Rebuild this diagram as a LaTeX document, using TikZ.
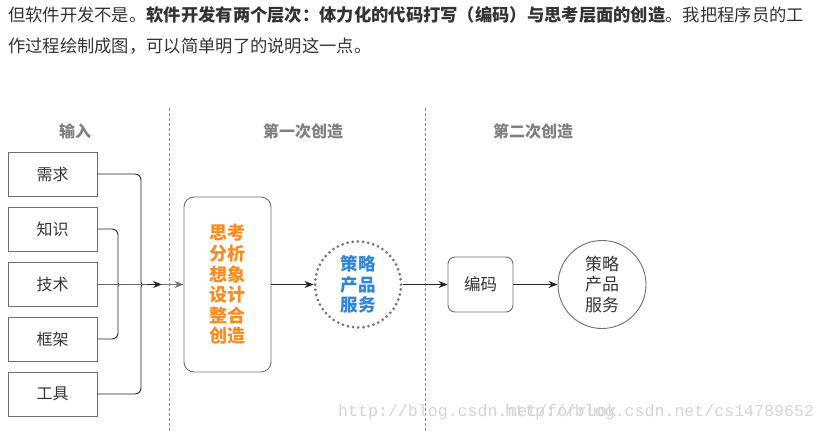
\documentclass[tikz,border=0pt]{standalone}
\usepackage{fontspec}
\setmainfont{Noto Sans CJK SC}
\newfontfamily\wmfont{Liberation Mono}
\usetikzlibrary{arrows.meta,calc}
\definecolor{txt}{HTML}{333333}
\definecolor{hdr}{HTML}{808080}
\definecolor{bord}{HTML}{6E6E6E}
\definecolor{orng}{HTML}{FF8A1E}
\definecolor{blu}{HTML}{2F86D8}
\definecolor{dash}{HTML}{8C8C8C}
\definecolor{wm}{HTML}{D4D4D4}
\begin{document}
\begin{tikzpicture}[x=1pt,y=-1pt,
  inbox/.style={draw=bord,line width=0.8pt,minimum width=89pt,minimum height=44pt,inner sep=0pt,font=\fontsize{16}{18}\selectfont,text=txt},
  header/.style={font=\fontsize{16}{18}\selectfont\bfseries,text=hdr},
  sep/.style={draw=dash,line width=0.8pt,dash pattern=on 3pt off 2pt},
  conn/.style={draw=black!85,line width=0.9pt},
  arr/.style={-{Stealth[length=9pt,width=7pt]}},
  topline/.style={anchor=base west,inner sep=0pt,font=\fontsize{17.3}{20}\selectfont,text=txt}]
\useasboundingbox (0,0) rectangle (825,432);
% intro text
\node[topline] (l1) at (8,21) {但软件开发不是。\textbf{软件开发有两个层次：体力化的代码打写（编码）与思考层面的创造}。我把程序员的工};
\node[topline] (l2) at (8,52) {作过程绘制成图，可以简单明了的说明这一点。};
% separators
\coordinate (s1t) at (169,108); \coordinate (s1b) at (169,432);
\coordinate (s2t) at (425,108); \coordinate (s2b) at (425,432);
\draw[sep] (s1t) -- (s1b);
\draw[sep] (s2t) -- (s2b);
% headers
\node[header] (h0) at (75,131) {输入};
\node[header] (h1) at (303,131) {第一次创造};
\node[header] (h2) at (533,131) {第二次创造};
% inputs
\node[inbox] (r1) at (52.5,174) {需求};
\node[inbox] (r2) at (52.5,229) {知识};
\node[inbox] (r3) at (52.5,284.5) {技术};
\node[inbox] (r4) at (52.5,339) {框架};
\node[inbox] (r5) at (52.5,394) {工具};
\coordinate (m) at (162,284.5);
% braces
\draw[conn,rounded corners=6pt] (r1.east) -| (141,276) .. controls (141,284.5) .. (147,284.5);
\draw[conn,rounded corners=6pt] (r5.east) -| (141,293) .. controls (141,284.5) .. (147,284.5);
\draw[conn,rounded corners=6pt] (r2.east) -| (118,277) .. controls (118,284.5) .. (124,284.5);
\draw[conn,rounded corners=6pt] (r4.east) -| (118,292) .. controls (118,284.5) .. (124,284.5);
\draw[draw=black!60,line width=0.9pt] (r3.east) -- (147,284.5);
\draw[conn,arr] (147,284.5) -- (m);
% first creation
\node[draw=bord,line width=0.9pt,rounded corners=10pt,minimum width=87pt,minimum height=175pt,inner sep=0pt] (think) at (227.5,284.5) {};
\node[text=orng,font=\fontsize{18}{20.6}\selectfont\bfseries,align=center] (thinkt) at (think.center) {思考\\分析\\想象\\设计\\整合\\创造};
\draw[draw=black!55,line width=0.9pt,-{Stealth[length=9pt,width=7pt]},arrows={-Stealth[length=9pt,width=7pt,color=black!55]}] (m) -- (think.west);
\node[circle,draw=black!55,line width=3pt,dash pattern=on 0pt off 5.2pt,line cap=round,minimum size=86pt,inner sep=0pt] (c1) at (358,284.5) {};
\node[text=blu,font=\fontsize{17.5}{20.5}\selectfont\bfseries,align=center] (c1t) at (c1.center) {策略\\产品\\服务};
\draw[conn,arr] (think.east) -- (c1.west);
% second creation
\node[draw=bord,line width=0.9pt,rounded corners=7pt,minimum width=65pt,minimum height=55pt,inner sep=0pt,font=\fontsize{16.5}{18}\selectfont,text=txt] (code) at (480.5,284.5) {编码};
\node[circle,draw=bord,line width=0.9pt,minimum size=88pt,inner sep=0pt,align=center,font=\fontsize{17}{20.5}\selectfont,text=txt] (c2) at (602,284.5) {策略\\产品\\服务};
\draw[conn,arr] (c1.east) -- (code.west);
\draw[conn,arr] (code.east) -- (c2.west);
% watermarks
\node[anchor=base west,inner sep=0pt,text=wm,font=\wmfont\fontsize{16.6}{18}\selectfont] (w1) at (338,416) {http://blog.csdn.net/forruok};
\node[anchor=base west,inner sep=0pt,text=wm,font=\wmfont\fontsize{16.6}{18}\selectfont] (w2) at (505,416) {http://blog.csdn.net/cs14789652};
\end{tikzpicture}
\end{document}
